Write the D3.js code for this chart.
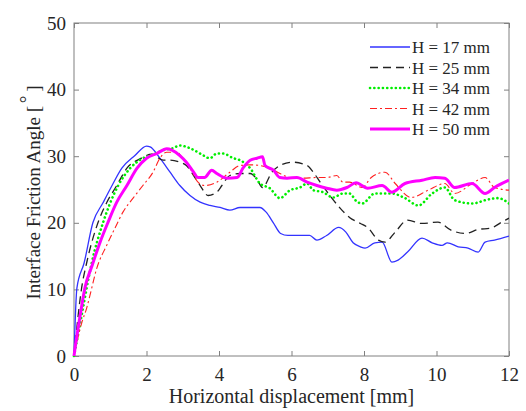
<!DOCTYPE html>
<html><head><meta charset="utf-8">
<script src="https://cdn.jsdelivr.net/npm/d3@7/dist/d3.min.js"></script>
<style>body{margin:0;background:#fff}svg{font-family:"Liberation Serif","Times New Roman",serif}</style>
</head><body><svg id="c" width="526" height="411"></svg>
<script>
const xTicks = [0,2,4,6,8,10,12];
const yTicks = [0,10,20,30,40,50];
const seriesNames = ["H = 17 mm","H = 25 mm","H = 34 mm","H = 42 mm","H = 50 mm"];
const h17 = [[0,0],[0.08,10.2],[0.28,14],[0.52,20],[0.8,23],[1.05,25.6],[1.32,28.2],[1.68,30.1],[2.0,31.5],[2.1,31.4],[2.37,29.7],[2.65,27.6],[2.92,25.6],[3.2,24.1],[3.48,23.1],[3.75,22.6],[4.03,22.3],[4.3,21.9],[4.58,22.3],[4.86,22.3],[5.13,22.3],[5.3,21.6],[5.5,20],[5.7,18.4],[5.9,18.1],[6.23,18.1],[6.5,18.1],[6.7,17.4],[6.97,18.1],[7.3,19.3],[7.5,18.6],[7.7,17],[7.9,16.4],[8.03,16.2],[8.3,17],[8.5,17.1],[8.77,14.1],[8.94,14.4],[9.2,15.6],[9.6,17.7],[9.88,17],[10.15,16.6],[10.3,17],[10.6,16.4],[10.87,16.2],[11.15,15.6],[11.34,17.1],[11.6,17.4],[12,18]];
const h25 = [[0,0],[0.21,10.2],[0.35,14],[0.66,20],[0.9,23],[1.18,25.6],[1.46,28.2],[1.82,29.6],[2.15,30.3],[2.46,29.4],[2.65,29.4],[2.92,29.1],[3.1,28.6],[3.3,27.1],[3.48,25.6],[3.7,24.1],[3.94,24.6],[4.08,25.6],[4.3,27.1],[4.58,27.4],[4.86,27.4],[5.05,26.5],[5.2,25.3],[5.46,27.6],[5.68,28.6],[6.04,29.1],[6.43,28.6],[6.6,27.6],[6.79,26.1],[7.06,24.1],[7.34,22.2],[7.6,20.8],[7.9,19.9],[8.1,19.3],[8.4,17.4],[8.58,17.1],[8.86,18.6],[9.2,20.4],[9.6,19.9],[10.04,20.1],[10.4,18.9],[10.8,18.4],[11.15,19],[11.5,19.2],[11.8,20.1],[12,20.7]];
const h34 = [[0,0],[0.3,8.7],[0.35,10.2],[0.49,14],[0.8,20],[1.0,23],[1.22,25.6],[1.55,28.2],[1.87,29.6],[2.2,30.3],[2.46,30.9],[2.73,31.2],[2.92,31.6],[3.2,31.2],[3.48,30.4],[3.75,29.7],[3.94,30.4],[4.1,30.4],[4.4,29.7],[4.58,29.4],[4.86,28.2],[5.13,25.9],[5.4,25.2],[5.68,23.7],[5.96,24.9],[6.23,25.3],[6.43,25.9],[6.6,24.9],[6.87,24.6],[7.15,23.8],[7.42,24.4],[7.6,24.4],[7.8,23.2],[7.95,22.9],[8.3,24.4],[8.77,24.4],[9.13,23.7],[9.5,22.6],[9.88,24.4],[10.23,25.3],[10.5,23.4],[10.98,22.9],[11.42,23.5],[11.7,23.7],[12,22.9]];
const h42 = [[0,0],[0.08,2.1],[0.22,5.1],[0.35,7.2],[0.44,9.1],[0.63,13.2],[0.9,16.6],[1.13,19.2],[1.35,21.6],[1.63,23.7],[1.9,25.6],[2.18,27.6],[2.37,29.7],[2.56,30.6],[2.84,30.6],[3.0,29.7],[3.2,28.2],[3.42,26.1],[3.6,25.6],[3.94,26.1],[4.3,27.6],[4.58,28.6],[4.86,28.7],[5.13,28.6],[5.4,28.2],[5.68,27.4],[5.96,26.8],[6.3,26.7],[6.7,26.8],[6.97,26.8],[7.25,27.1],[7.42,26.1],[7.6,26.1],[7.95,25.3],[8.2,26.8],[8.58,27.6],[8.86,25.9],[9.3,23.8],[9.77,24.9],[10.23,25.9],[10.5,24.4],[10.98,25.9],[11.34,26.8],[11.6,25.3],[12,24.9]];
const h50 = [[0,0],[0.03,1.2],[0.17,6.1],[0.3,10.2],[0.5,13.6],[0.72,17.1],[0.94,20.1],[1.18,23.1],[1.46,25.6],[1.74,28.2],[2.0,29.7],[2.28,30.4],[2.56,31.1],[2.7,30.9],[2.92,30.1],[3.1,29.1],[3.3,27.6],[3.42,26.8],[3.6,26.8],[3.8,27.9],[3.94,27.4],[4.22,26.7],[4.5,26.8],[4.66,28.2],[4.86,29.4],[5.05,29.7],[5.2,29.9],[5.27,28.6],[5.5,27.9],[5.68,26.8],[5.88,26.7],[6.15,26.8],[6.43,26.1],[6.7,25.6],[6.97,25.2],[7.25,24.9],[7.53,25.3],[7.78,26],[8.1,25.2],[8.5,25.6],[8.77,24.6],[9.13,25.9],[9.6,26.4],[9.96,26.8],[10.23,26.7],[10.5,25.3],[10.98,25.9],[11.34,24.4],[11.6,25.3],[12,26.4]];

const svg = d3.select("#c");
const x = d3.scaleLinear().domain([0,12]).range([74,509]);
const y = d3.scaleLinear().domain([0,50]).range([356,23]);
const axisCol = "#808080", textCol = "#262626";

const g = svg.append("g");
g.append("rect").attr("x",x(0)).attr("y",y(50)).attr("width",x(12)-x(0)).attr("height",y(0)-y(50))
 .attr("fill","none").attr("stroke",axisCol).attr("stroke-width",1);

function styleAxis(sel){ sel.select(".domain").remove(); sel.selectAll("line").attr("stroke",axisCol); sel.selectAll("text").attr("fill",textCol).attr("font-size",19).attr("font-family","Liberation Serif"); }
g.append("g").attr("transform",`translate(0,${y(0)})`).call(d3.axisBottom(x).tickValues(xTicks).tickSize(-5).tickPadding(12)).call(styleAxis);
g.append("g").attr("transform",`translate(0,${y(50)})`).call(d3.axisTop(x).tickValues(xTicks).tickSize(-5).tickFormat("")).call(styleAxis);
g.append("g").attr("transform",`translate(${x(0)},0)`).call(d3.axisLeft(y).tickValues(yTicks).tickSize(-5).tickPadding(8)).call(styleAxis);
g.append("g").attr("transform",`translate(${x(12)},0)`).call(d3.axisRight(y).tickValues(yTicks).tickSize(-5).tickFormat("")).call(styleAxis);

const styles = [
 {data:h17, color:"#3333ff", w:1.3, dash:null},
 {data:h25, color:"#222222", w:1.3, dash:"8,5"},
 {data:h34, color:"#00ee00", w:2.6, dash:"0.1,4.2", cap:"round"},
 {data:h42, color:"#ff2020", w:1.1, dash:"7,3,2,3"},
 {data:h50, color:"#ff00ff", w:3, dash:null}
];
const line = d3.line().x(d=>x(d[0])).y(d=>y(d[1])).curve(d3.curveMonotoneX);
svg.append("clipPath").attr("id","cp").append("rect").attr("x",x(0)-2).attr("y",y(50)).attr("width",x(12)-x(0)+2).attr("height",y(0)-y(50)+2);
styles.forEach(s=>{
  svg.append("path").datum(s.data).attr("d",line).attr("fill","none").attr("stroke",s.color)
   .attr("stroke-width",s.w).attr("stroke-dasharray",s.dash).attr("stroke-linecap",s.cap||"butt")
   .attr("stroke-linejoin","round").attr("clip-path","url(#cp)");
});

const lg = svg.append("g");
styles.forEach((s,i)=>{
  const yy = 47 + i*20.5;
  lg.append("line").attr("x1",370).attr("x2",410).attr("y1",yy).attr("y2",yy).attr("stroke",s.color)
   .attr("stroke-width",s.w).attr("stroke-dasharray",s.dash).attr("stroke-linecap",s.cap||"butt");
  lg.append("text").attr("x",412).attr("y",yy+6).attr("font-size",17).attr("fill",textCol).text(seriesNames[i]);
});

svg.append("text").attr("x",(x(0)+x(12))/2).attr("y",403).attr("text-anchor","middle").attr("font-size",20).attr("fill",textCol).text("Horizontal displacement [mm]");
const yt = svg.append("text").attr("transform",`translate(40,${(y(0)+y(50))/2+3}) rotate(-90)`).attr("text-anchor","middle").attr("font-size",19).attr("fill",textCol);
yt.append("tspan").text("Interface Friction Angle [ ");
yt.append("tspan").attr("dy",-7).attr("dx",-2).text("°");
yt.append("tspan").attr("dy",7).attr("dx",-1).text(" ]");
</script></body></html>
